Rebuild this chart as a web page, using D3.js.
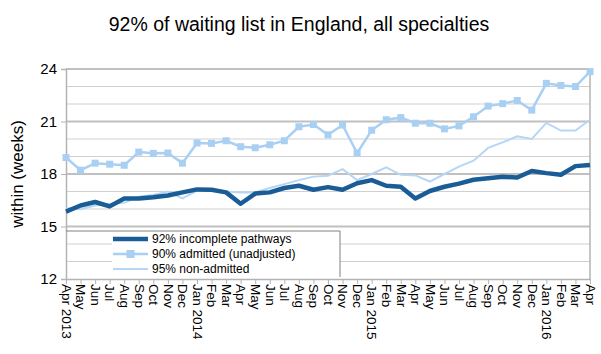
<!DOCTYPE html>
<html>
<head>
<meta charset="utf-8">
<script src="https://cdn.jsdelivr.net/npm/d3@7"></script>
<style>
  body { margin: 0; background: #fff; }
  text { font-family: "Liberation Sans", Arial, sans-serif; fill: #000; }
</style>
</head>
<body>
<div id="chart"></div>
<script>
var w = 601, h = 354;
var margin = {top: 69, right: 11, bottom: 75, left: 66};

// Data (weeks), Apr 2013 .. Apr 2016
var months = ["Apr 2013","May","Jun","Jul","Aug","Sep","Oct","Nov","Dec",
  "Jan 2014","Feb","Mar","Apr","May","Jun","Jul","Aug","Sep","Oct","Nov","Dec",
  "Jan 2015","Feb","Mar","Apr","May","Jun","Jul","Aug","Sep","Oct","Nov","Dec",
  "Jan 2016","Feb","Mar","Apr"];
var incomplete = [15.85,16.2,16.4,16.15,16.6,16.6,16.67,16.77,16.95,17.12,17.1,16.95,16.3,
  16.88,16.95,17.2,17.33,17.1,17.25,17.1,17.47,17.65,17.33,17.27,16.6,
  17.03,17.27,17.45,17.67,17.76,17.84,17.8,18.17,18.05,17.96,18.45,18.52];
var admitted = [18.94,18.22,18.62,18.56,18.5,19.25,19.18,19.2,18.62,19.77,19.75,19.9,19.56,
  19.5,19.67,19.9,20.7,20.83,20.24,20.8,19.2,20.5,21.1,21.22,20.9,
  20.9,20.58,20.75,21.27,21.88,22.02,22.2,21.65,23.18,23.06,23.0,23.85];
var nonAdmitted = [16.05,15.98,16.2,16.3,16.35,16.7,16.8,17.0,16.6,17.05,17.1,17.0,16.95,
  16.95,17.2,17.42,17.65,17.85,17.9,18.28,17.65,18.0,18.38,17.95,17.92,
  17.57,18.0,18.42,18.76,19.49,19.81,20.15,20.0,20.92,20.48,20.48,21.1];
var yTicks = [12,15,18,21,24];
var seriesNames = ["92% incomplete pathways","90% admitted (unadjusted)","95% non-admitted"];

var dark = "#1a5d96", light = "#a9cff3", light2 = "#b5d7f5";

var svg = d3.select("#chart").append("svg")
  .attr("width", w)
  .attr("height", h);

var xScale = d3.scalePoint()
  .domain(d3.range(months.length))
  .range([margin.left, w - margin.right]);

var yScale = d3.scaleLinear()
  .domain([12, 24])
  .range([h - margin.bottom, margin.top]);

// Title
svg.append("text")
  .attr("x", 299)
  .attr("y", 31)
  .attr("text-anchor", "middle")
  .style("font-size", "19.5px")
  .text("92% of waiting list in England, all specialties");

// Gridlines, minor every week, major every 3
svg.append("g").selectAll("line")
  .data(d3.range(13, 24))
  .enter()
  .append("line")
  .attr("x1", margin.left).attr("x2", w - margin.right)
  .attr("y1", function(d) { return yScale(d); })
  .attr("y2", function(d) { return yScale(d); })
  .attr("stroke", function(d) { return d % 3 === 0 ? "#c0c0c0" : "#d0d0d0"; })
  .attr("stroke-width", function(d) { return d % 3 === 0 ? 2 : 1; });

svg.append("line")
  .attr("x1", margin.left).attr("x2", w - margin.right)
  .attr("y1", yScale(24)).attr("y2", yScale(24))
  .attr("stroke", "#c0c0c0").attr("stroke-width", 2);

// Y axis
var yAxis = d3.axisLeft(yScale)
  .tickValues(yTicks)
  .tickSize(5)
  .tickPadding(4);

var gy = svg.append("g")
  .attr("transform", "translate(" + margin.left + ",0)")
  .call(yAxis);
gy.select(".domain").attr("stroke", "#b3b3b3").attr("stroke-width", 1.5);
gy.selectAll(".tick line").attr("stroke", "#b3b3b3");
gy.selectAll(".tick text").style("font-size", "15px").attr("font-family", null);

// Right border
svg.append("line")
  .attr("x1", w - margin.right).attr("x2", w - margin.right)
  .attr("y1", yScale(24)).attr("y2", yScale(12))
  .attr("stroke", "#b3b3b3").attr("stroke-width", 1.5);

// X axis
var xAxis = d3.axisBottom(xScale)
  .tickFormat(function(i) { return months[i]; })
  .tickSize(5)
  .tickSizeOuter(0);

var gx = svg.append("g")
  .attr("transform", "translate(0," + yScale(12) + ")")
  .call(xAxis);
gx.select(".domain").attr("stroke", "#b3b3b3").attr("stroke-width", 1.5);
gx.selectAll(".tick line").attr("stroke", "#b3b3b3");
gx.selectAll(".tick text")
  .style("font-size", "13.5px")
  .attr("font-family", null)
  .attr("text-anchor", "start")
  .attr("transform", "rotate(90)")
  .attr("x", 5)
  .attr("y", 0)
  .attr("dy", "0.35em");

// Y axis title
svg.append("text")
  .attr("transform", "translate(23," + yScale(18) + ") rotate(-90)")
  .attr("text-anchor", "middle")
  .style("font-size", "17px")
  .text("within (weeks)");

// Lines
var line = function(vals) {
  return d3.line()
    .x(function(d, i) { return xScale(i); })
    .y(function(d) { return yScale(d); })(vals);
};

svg.append("path")
  .attr("d", line(nonAdmitted))
  .attr("fill", "none")
  .attr("stroke", light2)
  .attr("stroke-width", 2);

svg.append("path")
  .attr("d", line(admitted))
  .attr("fill", "none")
  .attr("stroke", light)
  .attr("stroke-width", 2.5);

svg.append("g").selectAll("rect")
  .data(admitted)
  .enter()
  .append("rect")
  .attr("x", function(d, i) { return xScale(i) - 3.5; })
  .attr("y", function(d) { return yScale(d) - 3.5; })
  .attr("width", 7)
  .attr("height", 7)
  .attr("fill", light);

svg.append("path")
  .attr("d", line(incomplete))
  .attr("fill", "none")
  .attr("stroke", dark)
  .attr("stroke-width", 4.5)
  .attr("stroke-linejoin", "round");

// Legend
var lg = svg.append("g");
lg.append("rect")
  .attr("x", 112).attr("y", 231)
  .attr("width", 228).attr("height", 46)
  .attr("fill", "#fff");
lg.append("path")
  .attr("d", "M" + margin.left + ",231H340V277")
  .attr("fill", "none")
  .attr("stroke", "#808080")
  .attr("stroke-width", 1);

var legendStyles = [
  {color: dark, width: 4.5, marker: false},
  {color: light, width: 2.5, marker: true},
  {color: light2, width: 2, marker: false}
];
seriesNames.forEach(function(name, i) {
  var y = 239 + i * 15;
  var s = legendStyles[i];
  lg.append("line")
    .attr("x1", 113).attr("x2", 148)
    .attr("y1", y).attr("y2", y)
    .attr("stroke", s.color)
    .attr("stroke-width", s.width);
  if (s.marker) {
    lg.append("rect")
      .attr("x", 130.5 - 4).attr("y", y - 4)
      .attr("width", 8).attr("height", 8)
      .attr("fill", s.color);
  }
  lg.append("text")
    .attr("x", 152)
    .attr("y", y)
    .attr("dy", "0.35em")
    .style("font-size", "12px")
    .text(name);
});
</script>
</body>
</html>
